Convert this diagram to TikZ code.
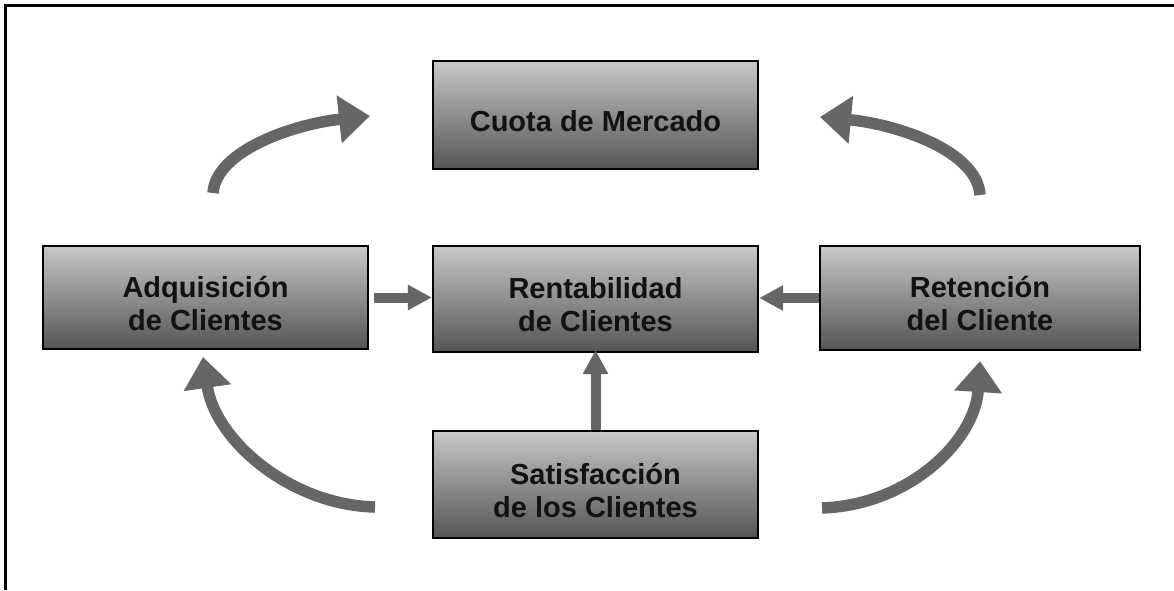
\documentclass[tikz,border=0pt]{standalone}
\usepackage{fontspec}
\setmainfont{Liberation Sans}
\usetikzlibrary{arrows.meta}
\definecolor{boxtop}{RGB}{200,200,200}
\definecolor{boxbot}{RGB}{84,84,84}
\definecolor{arrowgray}{RGB}{102,102,102}
\definecolor{textblack}{RGB}{18,18,18}
\newcommand\boxpad{\rule{0pt}{33pt}}
\begin{document}
\begin{tikzpicture}[x=1pt,y=-1pt,
  box/.style={draw=black, line width=2.4pt, top color=boxtop, bottom color=boxbot,
    minimum width=325pt, align=center, inner sep=0pt, text=textblack,
    font=\fontsize{29}{33}\selectfont\bfseries},
  sarrow/.style={draw=arrowgray, line width=10pt, -{Triangle[length=24pt,width=24pt]}},
  carrow/.style={draw=arrowgray, line width=11.5pt, -{Triangle[length=31pt,width=46pt]}}]
\useasboundingbox (0,0) rectangle (1174,590);
\fill[white] (0,0) rectangle (1174,590);
% frame (left and top edges)
\draw[line width=2.5pt, black] (5.5,590) -- (5.5,5.5) -- (1174,5.5);

\node[box, minimum height=108pt] (cuota) at (595.5,115) {\boxpad Cuota de Mercado};
\node[box, minimum height=103pt] (adq) at (205.5,297.5) {\boxpad Adquisición\\de Clientes};
\node[box, minimum height=106pt] (rent) at (595.5,299) {\boxpad Rentabilidad\\de Clientes};
\node[box, minimum height=104pt, minimum width=320pt] (ret) at (980,298) {\boxpad Retención\\del Cliente};
\node[box, minimum height=107pt] (sat) at (595.5,484.5) {\boxpad Satisfacción\\de los Clientes};

% straight arrows
\draw[sarrow, shorten <=5pt] (adq.east) -- (adq.east -| rent.west);
\draw[sarrow] (ret.west) -- (ret.west -| rent.east);
\draw[sarrow, shorten >=-3pt] (sat.north) -- (rent.south);

% curved arrows
\coordinate (tlS) at (213,193);
\coordinate (tlE) at (370,116);
\coordinate (trS) at (980,195);
\coordinate (trE) at (820,117);
\coordinate (blS) at (375,507);
\coordinate (blE) at (203,357);
\coordinate (brS) at (822,508);
\coordinate (brE) at (980,361);
\draw[carrow] (tlS) .. controls (216,150) and (295,124) .. (tlE);
\draw[carrow] (trS) .. controls (977,150) and (895,124) .. (trE);
\draw[carrow] (blS) .. controls (290,505) and (215,440) .. (blE);
\draw[carrow] (brS) .. controls (910,505) and (975,440) .. (brE);
\end{tikzpicture}
\end{document}
